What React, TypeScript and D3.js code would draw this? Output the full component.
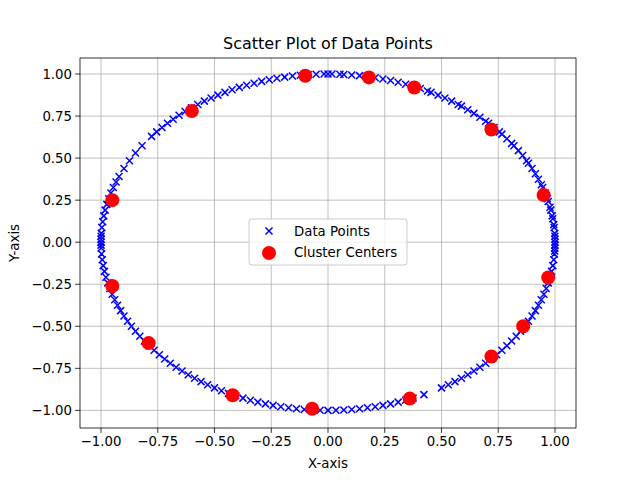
import * as d3 from "d3";

// angles (degrees) of the data points read around the circle
const pointAngles = [
  0, 1, 2, 3, 5, 6, 8, 9, 11, 12, 14, 15, 17, 19, 20, 22, 24, 26, 28, 29, 31, 33, 35, 36, 38, 40, 41, 43, 45,
  46, 48, 50, 52, 54, 55, 57, 59, 61, 63, 64, 66, 68, 70, 72, 74, 76, 78, 80, 82, 84, 86, 87, 89, 90, 91, 93,
  95, 97, 99, 101, 103, 105, 107, 109, 111, 113, 115, 117, 119, 121, 123, 125, 127, 129, 131, 133, 135, 137,
  139, 141, 145, 148, 151, 154, 157, 159, 161, 163, 165, 167, 169, 171, 173, 175, 177, 178, 179, 180, 181, 182,
  184, 186, 188, 190, 192, 194, 196, 198, 200, 202, 204, 206, 208, 210, 212, 214, 216, 218, 220, 222, 224, 226,
  228, 230, 232, 234, 236, 238, 240, 242, 244, 246, 248, 250, 252, 254, 256, 258, 260, 262, 264, 266, 268, 270,
  272, 274, 276, 278, 280, 282, 284, 286, 288, 290, 292, 295, 300, 302, 304, 306, 308, 310, 312, 314, 316, 318,
  320, 322, 324, 326, 328, 330, 332, 334, 336, 338, 340, 342, 344, 346, 348, 350, 352, 354, 356, 357, 358, 359,
];

const centerX = [-0.6, -0.1, 0.18, 0.38, 0.72, 0.95, 0.97, 0.86, 0.72, 0.36, -0.07, -0.42, -0.79, -0.95, -0.95];
const centerY = [0.78, 0.99, 0.98, 0.92, 0.67, 0.28, -0.21, -0.5, -0.68, -0.93, -0.99, -0.91, -0.6, -0.26, 0.25];

const xTicks = [-1.0, -0.75, -0.5, -0.25, 0.0, 0.25, 0.5, 0.75, 1.0];
const yTicks = [-1.0, -0.75, -0.5, -0.25, 0.0, 0.25, 0.5, 0.75, 1.0];

export default function App() {
  const left = 80, right = 576, top = 58, bottom = 428;
  const x = d3.scaleLinear().domain([-1.0925, 1.0925]).range([left, right]);
  const y = d3.scaleLinear().domain([-1.1, 1.1]).range([bottom - 0.8, top - 0.8]);
  const font = "DejaVu Sans";
  const fmt = d3.format(".2f");
  const cross = (cx: number, cy: number, k: number) => (
    <path key={k} d={`M${cx - 3.5},${cy - 3.5}L${cx + 3.5},${cy + 3.5}M${cx - 3.5},${cy + 3.5}L${cx + 3.5},${cy - 3.5}`}
      stroke="blue" strokeWidth={1.5} fill="none" />
  );
  return (
    <svg width={640} height={480} style={{ position: "absolute", left: 0, top: 0 }} fontFamily={font}>
      <rect width={640} height={480} fill="white" />
      {xTicks.map((t) => (
        <g key={"x" + t}>
          <line x1={x(t)} x2={x(t)} y1={top} y2={bottom} stroke="#b0b0b0" strokeWidth={0.8} />
          <line x1={x(t)} x2={x(t)} y1={bottom} y2={bottom + 4.9} stroke="black" strokeWidth={0.8} />
          <text x={x(t)} y={bottom + 18} fontSize={13.3} textAnchor="middle">{fmt(t).replace("-", "\u2212")}</text>
        </g>
      ))}
      {yTicks.map((t) => (
        <g key={"y" + t}>
          <line x1={left} x2={right} y1={y(t)} y2={y(t)} stroke="#b0b0b0" strokeWidth={0.8} />
          <line x1={left - 4.9} x2={left} y1={y(t)} y2={y(t)} stroke="black" strokeWidth={0.8} />
          <text x={left - 8} y={y(t) + 4.8} fontSize={13.3} textAnchor="end">{fmt(t).replace("-", "\u2212")}</text>
        </g>
      ))}
      {pointAngles.map((a, i) => {
        const r = (a * Math.PI) / 180;
        return cross(x(Math.cos(r)), y(Math.sin(r)), i);
      })}
      {centerX.map((cx, i) => (
        <circle key={"c" + i} cx={x(cx)} cy={y(centerY[i])} r={7} fill="red" />
      ))}
      <rect x={left} y={top} width={right - left} height={bottom - top} fill="none" stroke="black" strokeWidth={0.8} />
      <text x={(left + right) / 2} y={top - 9} fontSize={16} textAnchor="middle">Scatter Plot of Data Points</text>
      <text x={(left + right) / 2} y={468} fontSize={13.3} textAnchor="middle">X-axis</text>
      <text transform={`translate(19,${(top + bottom) / 2}) rotate(-90)`} fontSize={13.3} textAnchor="middle">Y-axis</text>
      <g>
        <rect x={249} y={219} width={158} height={46} rx={3} fill="white" fillOpacity={0.8} stroke="#cccccc" />
        {cross(269, 231, -1)}
        <text x={294} y={236} fontSize={13.3}>Data Points</text>
        <circle cx={269} cy={253} r={7} fill="red" />
        <text x={294} y={257} fontSize={13.3}>Cluster Centers</text>
      </g>
    </svg>
  );
}
